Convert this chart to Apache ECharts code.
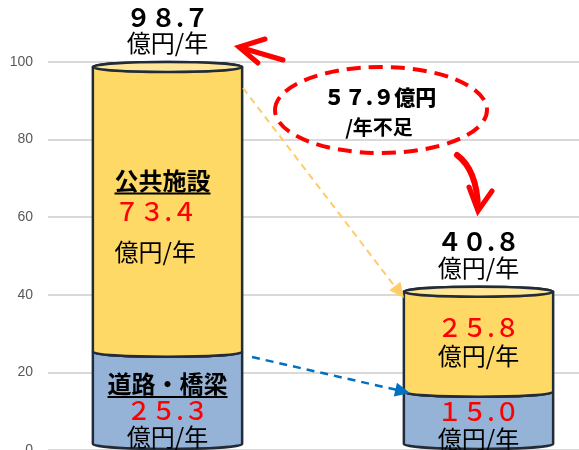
<!DOCTYPE html>
<html><head><meta charset="utf-8">
<script src="https://cdn.jsdelivr.net/npm/echarts@6/dist/echarts.min.js"></script>
<style>html,body{margin:0;padding:0;background:#fff}#c{width:579px;height:450px}</style>
</head><body><div id="c"></div>
<script>
// ---- data ----
const categories = ['現在', '必要'];
const roadValues = [25.3, 15.0];
const facilityValues = [73.4, 25.8];
const segmentTitles = ['道路・橋梁', '公共施設'];
const unitText = '億円/年';
const yMin = 0, yMax = 100, yInterval = 20;

const totals = categories.map((c, i) => +(roadValues[i] + facilityValues[i]).toFixed(1));
const shortage = +(totals[0] - totals[1]).toFixed(1);

function toFull(v) {
  return v.toFixed(1).replace(/[0-9]/g, ch => String.fromCharCode(ch.charCodeAt(0) + 0xFEE0));
}

// ---- style / layout ----
const FONT = "'Noto Sans CJK JP', 'Noto Sans CJK SC', sans-serif";
const segStyle = [
  { fill: '#95B3D7' },
  { fill: '#FFD966', topFill: '#FFE699' }
];
const segLayout = [
  [ { title: true, align: 'center', dx: 0, lines: [-17, 10, 36] }, { title: false, align: 'center', dx: 0, lines: [null, -9, 18] } ],
  [ { title: true, align: 'left', dx: -53, lines: [-29, 2, 42] }, { title: false, align: 'center', dx: 0, lines: [null, -14, 14] } ]
];
const mctx = document.createElement('canvas').getContext('2d');
function textW(t, font) { mctx.font = font; return mctx.measureText(t).width; }

function makeRender(seg) {
  return function (params, api) {
    const ci = api.value(0), base = api.value(1), top = api.value(2);
    const pTop = api.coord([ci, top]);
    const pBase = api.coord([ci, base]);
    const w = api.size([1, 0])[0] * 0.48;
    const rx = w / 2, ry = 5;
    const cx = pTop[0], L = cx - rx, R = cx + rx;
    const yT = pTop[1];
    let yB = pBase[1];
    if (base === 0) yB -= 6;
    const edge = '#222B38';
    const children = [];
    let d;
    if (seg === 1) {
      d = `M${L},${yT} L${L},${yB} A${rx},${ry} 0 0 0 ${R},${yB} L${R},${yT} A${rx},${ry} 0 0 0 ${L},${yT} Z`;
    } else {
      d = `M${L},${yT} L${L},${yB} A${rx},${ry} 0 0 0 ${R},${yB} L${R},${yT} A${rx},${ry} 0 0 1 ${L},${yT} Z`;
    }
    children.push({ type: 'path', shape: { pathData: d }, style: { fill: segStyle[seg].fill, stroke: edge, lineWidth: 2.5 } });
    if (seg === 1) {
      children.push({ type: 'ellipse', shape: { cx: cx, cy: yT, rx: rx, ry: ry }, style: { fill: segStyle[seg].topFill, stroke: edge, lineWidth: 2.5 } });
      children.push({ type: 'text', style: { x: cx, y: yT - 50, text: toFull(totals[ci]), fill: '#000', font: 'bold 25px ' + FONT, align: 'center', verticalAlign: 'middle' } });
      children.push({ type: 'text', style: { x: cx, y: yT - 24, text: unitText, fill: '#000', font: '24px ' + FONT, align: 'center', verticalAlign: 'middle' } });
    }
    const lay = segLayout[seg][ci];
    const mid = (pTop[1] + pBase[1]) / 2;
    const tx = cx + lay.dx;
    const val = seg === 0 ? roadValues[ci] : facilityValues[ci];
    if (lay.title && lay.lines[0] !== null) {
      const tf = 'bold 24px ' + FONT;
      const t = segmentTitles[seg];
      const tw = textW(t, tf);
      const ty = mid + lay.lines[0];
      children.push({ type: 'text', style: { x: tx, y: ty, text: t, fill: '#000', font: tf, align: lay.align, verticalAlign: 'middle' } });
      const ux0 = lay.align === 'center' ? tx - tw / 2 : tx;
      children.push({ type: 'line', shape: { x1: ux0, y1: ty + 13, x2: ux0 + tw, y2: ty + 13 }, style: { stroke: '#000', lineWidth: 2 } });
    }
    children.push({ type: 'text', style: { x: tx, y: mid + lay.lines[1], text: toFull(val), fill: '#FF0000', font: '500 25px ' + FONT, align: lay.align, verticalAlign: 'middle' } });
    children.push({ type: 'text', style: { x: tx, y: mid + lay.lines[2], text: unitText, fill: '#000', font: '24px ' + FONT, align: lay.align, verticalAlign: 'middle' } });
    return { type: 'group', children: children };
  };
}

function arrowHead(x0, y0, x1, y1, len, half, color) {
  const dx = x1 - x0, dy = y1 - y0, n = Math.hypot(dx, dy);
  const ux = dx / n, uy = dy / n;
  const bx = x1 - ux * len, by = y1 - uy * len;
  return { type: 'polygon', z: 100, shape: { points: [[x1, y1], [bx - uy * half, by + ux * half], [bx + uy * half, by - ux * half]] }, style: { fill: color } };
}

const chart = echarts.init(document.getElementById('c'), null, { renderer: 'canvas' });
chart.setOption({
  animation: false,
  backgroundColor: '#fff',
  grid: [
    { left: 48, right: 0, top: 62, bottom: 0, containLabel: false, outerBoundsMode: 'none' },
    { left: 12, width: 622, top: 62, bottom: 0, containLabel: false, outerBoundsMode: 'none' }
  ],
  xAxis: [
    { type: 'category', gridIndex: 0, data: categories, show: false },
    { type: 'category', gridIndex: 1, data: categories, show: false }
  ],
  yAxis: [
    { type: 'value', gridIndex: 0, min: yMin, max: yMax, interval: yInterval,
      axisLine: { show: false }, axisTick: { show: false },
      axisLabel: { color: '#595959', fontSize: 14, margin: 15, fontFamily: "'Liberation Sans', Arial, sans-serif" },
      splitLine: { lineStyle: { color: '#D9D9D9', width: 2 } } },
    { type: 'value', gridIndex: 1, min: yMin, max: yMax, show: false, splitLine: { show: false } }
  ],
  series: [
    { type: 'custom', xAxisIndex: 1, yAxisIndex: 1, renderItem: makeRender(0),
      data: categories.map((c, i) => [i, 0, roadValues[i]]) },
    { type: 'custom', xAxisIndex: 1, yAxisIndex: 1, renderItem: makeRender(1),
      data: categories.map((c, i) => [i, roadValues[i], totals[i]]) }
  ],
  graphic: [
    { type: 'ellipse', z: 50, shape: { cx: 381, cy: 110, rx: 106, ry: 43 }, style: { fill: 'transparent', stroke: '#FF0000', lineWidth: 4, lineDash: [14, 8] } },
    { type: 'text', z: 50, style: { x: 380, y: 97, text: toFull(shortage) + '億円', fill: '#000', font: '900 21px ' + FONT, align: 'center', verticalAlign: 'middle' } },
    { type: 'text', z: 50, style: { x: 379, y: 127, text: '/年不足', fill: '#000', font: 'bold 20px ' + FONT, align: 'center', verticalAlign: 'middle' } },
    { type: 'polyline', z: 50, shape: { points: [[283, 60], [242, 48]] }, style: { stroke: '#FF0000', lineWidth: 5, lineCap: 'round' } },
    { type: 'polyline', z: 50, shape: { points: [[265, 39], [239, 47], [258, 63]] }, style: { stroke: '#FF0000', lineWidth: 5, lineCap: 'round', lineJoin: 'miter', fill: 'transparent' } },
    { type: 'bezierCurve', z: 50, shape: { x1: 457, y1: 155, cpx1: 477, cpy1: 170, x2: 478, y2: 208 }, style: { stroke: '#FF0000', lineWidth: 6, lineCap: 'round', fill: 'transparent' } },
    { type: 'polyline', z: 50, shape: { points: [[469, 187], [478, 211], [492, 191]] }, style: { stroke: '#FF0000', lineWidth: 5, lineCap: 'round', lineJoin: 'miter', fill: 'transparent' } },
    { type: 'line', z: 100, shape: { x1: 243, y1: 88, x2: 396, y2: 288 }, style: { stroke: '#FFCC66', lineWidth: 2, lineDash: [7, 5] } },
    arrowHead(243, 88, 404, 298, 15, 7, '#FFCC66'),
    { type: 'line', z: 100, shape: { x1: 252, y1: 357, x2: 397, y2: 390 }, style: { stroke: '#0070C0', lineWidth: 2.5, lineDash: [8, 6] } },
    arrowHead(252, 357, 410, 393, 15, 7, '#0070C0')
  ]
});
</script></body></html>
